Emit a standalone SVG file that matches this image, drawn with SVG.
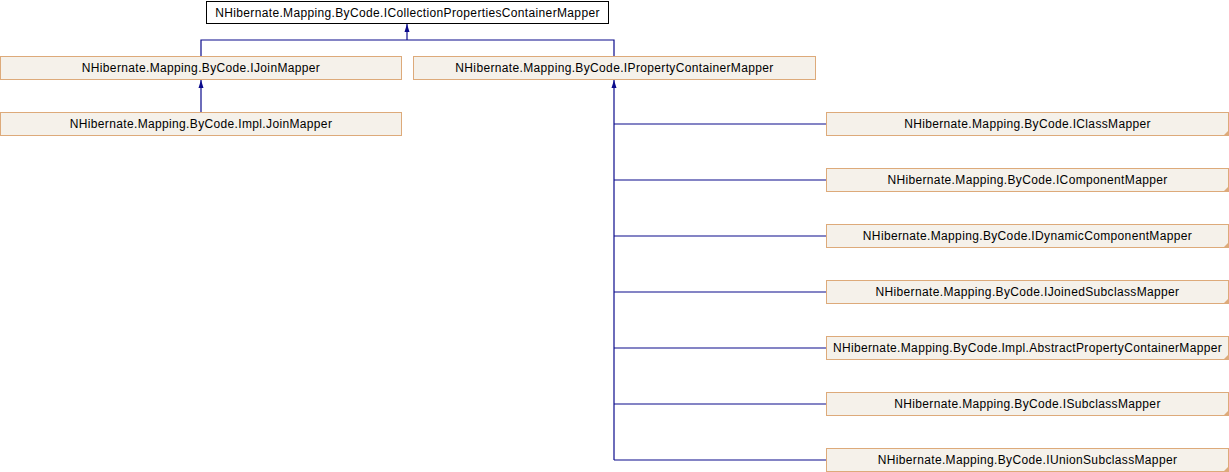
<svg xmlns="http://www.w3.org/2000/svg" width="1229" height="472" viewBox="0 0 1229 472">
<style>
.n{fill:#F5F1EA;stroke:#DDAA7A;stroke-width:1}
.r{fill:#FFFFFF;stroke:#000000;stroke-width:1}
.t{font-family:"Liberation Sans",Arial,sans-serif;font-size:12px;letter-spacing:0.35px;fill:#000;text-anchor:middle}
.e{fill:none;stroke:#0B0B8C;stroke-width:1.2}
.f{fill:#DDAA7A}
</style>
<defs>
<marker id="ah" viewBox="0 0 8 8" refX="8" refY="4" markerWidth="8" markerHeight="8" markerUnits="userSpaceOnUse" orient="auto">
<path d="M0,1.5 L8,4 L0,6.5 Z" fill="#0B0B8C"/>
</marker>
</defs>
<g id="edges">
<path class="e" d="M201,56 V40 H614 V56"/>
<path class="e" d="M407,40 V24" marker-end="url(#ah)"/>
<path class="e" d="M201,112 V80" marker-end="url(#ah)"/>
<path class="e" d="M614,460 V80" marker-end="url(#ah)"/>
<path class="e" d="M614,124 H826 M614,180 H826 M614,236 H826 M614,292 H826 M614,348 H826 M614,404 H826 M614,460 H826"/>
</g>
<g id="n_ICollectionPropertiesContainerMapper"><rect class="r" x="206.5" y="1.5" width="402" height="22"/><text class="t" x="407.5" y="16.5">NHibernate.Mapping.ByCode.ICollectionPropertiesContainerMapper</text></g>
<g id="n_IJoinMapper"><rect class="n" x="0.5" y="56.5" width="401" height="23"/><text class="t" x="201" y="71.5">NHibernate.Mapping.ByCode.IJoinMapper</text></g>
<g id="n_IPropertyContainerMapper"><rect class="n" x="413.5" y="56.5" width="402" height="23"/><text class="t" x="614.5" y="71.5">NHibernate.Mapping.ByCode.IPropertyContainerMapper</text></g>
<g id="n_JoinMapper"><rect class="n" x="0.5" y="112.5" width="401" height="23"/><text class="t" x="201" y="127.5">NHibernate.Mapping.ByCode.Impl.JoinMapper</text></g>
<g id="n_IClassMapper"><rect class="n" x="826.5" y="112.5" width="402" height="23"/><polygon class="f" points="1228.5,130.5 1228.5,135.5 1223.5,135.5"/><text class="t" x="1027.5" y="127.5">NHibernate.Mapping.ByCode.IClassMapper</text></g>
<g id="n_IComponentMapper"><rect class="n" x="826.5" y="168.5" width="402" height="23"/><polygon class="f" points="1228.5,186.5 1228.5,191.5 1223.5,191.5"/><text class="t" x="1027.5" y="183.5">NHibernate.Mapping.ByCode.IComponentMapper</text></g>
<g id="n_IDynamicComponentMapper"><rect class="n" x="826.5" y="224.5" width="402" height="23"/><polygon class="f" points="1228.5,242.5 1228.5,247.5 1223.5,247.5"/><text class="t" x="1027.5" y="239.5">NHibernate.Mapping.ByCode.IDynamicComponentMapper</text></g>
<g id="n_IJoinedSubclassMapper"><rect class="n" x="826.5" y="280.5" width="402" height="23"/><polygon class="f" points="1228.5,298.5 1228.5,303.5 1223.5,303.5"/><text class="t" x="1027.5" y="295.5">NHibernate.Mapping.ByCode.IJoinedSubclassMapper</text></g>
<g id="n_AbstractPropertyContainerMapper"><rect class="n" x="826.5" y="336.5" width="402" height="23"/><polygon class="f" points="1228.5,354.5 1228.5,359.5 1223.5,359.5"/><text class="t" x="1027.5" y="351.5">NHibernate.Mapping.ByCode.Impl.AbstractPropertyContainerMapper</text></g>
<g id="n_ISubclassMapper"><rect class="n" x="826.5" y="392.5" width="402" height="23"/><polygon class="f" points="1228.5,410.5 1228.5,415.5 1223.5,415.5"/><text class="t" x="1027.5" y="407.5">NHibernate.Mapping.ByCode.ISubclassMapper</text></g>
<g id="n_IUnionSubclassMapper"><rect class="n" x="826.5" y="448.5" width="402" height="23"/><polygon class="f" points="1228.5,466.5 1228.5,471.5 1223.5,471.5"/><text class="t" x="1027.5" y="463.5">NHibernate.Mapping.ByCode.IUnionSubclassMapper</text></g>
</svg>
